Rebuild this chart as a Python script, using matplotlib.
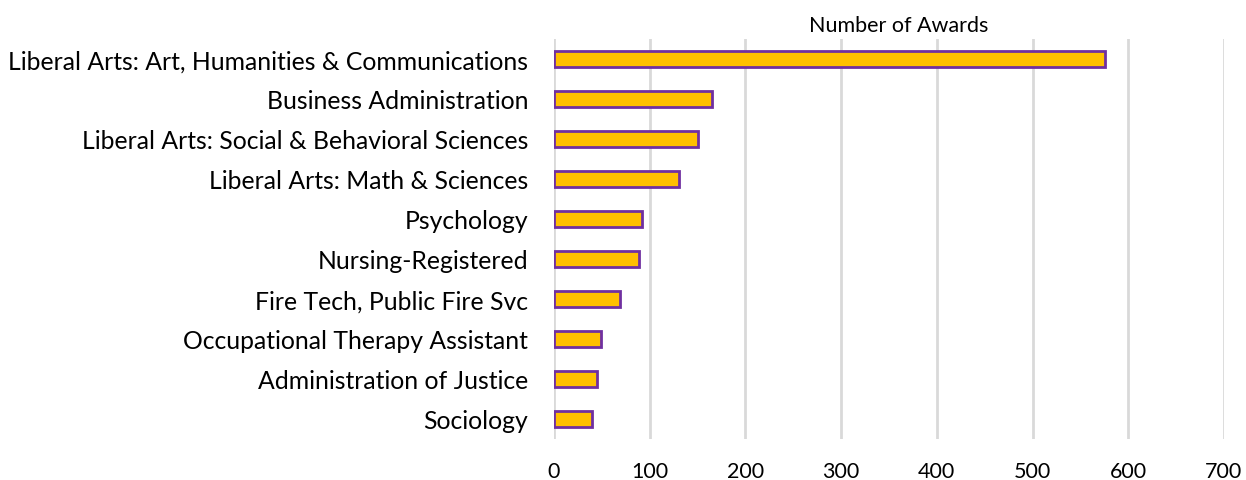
import matplotlib.pyplot as plt

programs = [
    "Liberal Arts: Art, Humanities & Communications",
    "Business Administration",
    "Liberal Arts: Social & Behavioral Sciences",
    "Liberal Arts: Math & Sciences",
    "Psychology",
    "Nursing-Registered",
    "Fire Tech, Public Fire Svc",
    "Occupational Therapy Assistant",
    "Administration of Justice",
    "Sociology",
]
awards = [576, 165, 150, 131, 92, 89, 69, 49, 45, 40]
x_ticks = [0, 100, 200, 300, 400, 500, 600, 700]

plt.rcParams["font.family"] = ["Lato", "DejaVu Sans"]

fig = plt.figure(figsize=(12.46, 4.81), dpi=100)
ax = fig.add_axes([554 / 1246, 41 / 481, 670 / 1246, 400 / 481])

pos = list(range(len(programs)))[::-1]
ax.barh(pos, awards, height=0.38, color="#FFC000", edgecolor="#7030A0", linewidth=2, zorder=3)

ax.set_xlim(0, 700)
ax.set_ylim(-0.5, len(programs) - 0.5)
ax.set_xticks(x_ticks)
ax.set_yticks(pos)
ax.set_yticklabels(programs)
ax.tick_params(axis="both", length=0)
ax.tick_params(axis="y", pad=18.5, labelsize=17.8)
ax.tick_params(axis="x", pad=16, labelsize=15.5)
ax.grid(axis="x", color="#D9D9D9", linewidth=2, zorder=0)
for s in ax.spines.values():
    s.set_visible(False)

ax.set_title("Number of Awards", fontsize=15.5, pad=6, x=0.515)

fig.savefig("out.png", dpi=100)
